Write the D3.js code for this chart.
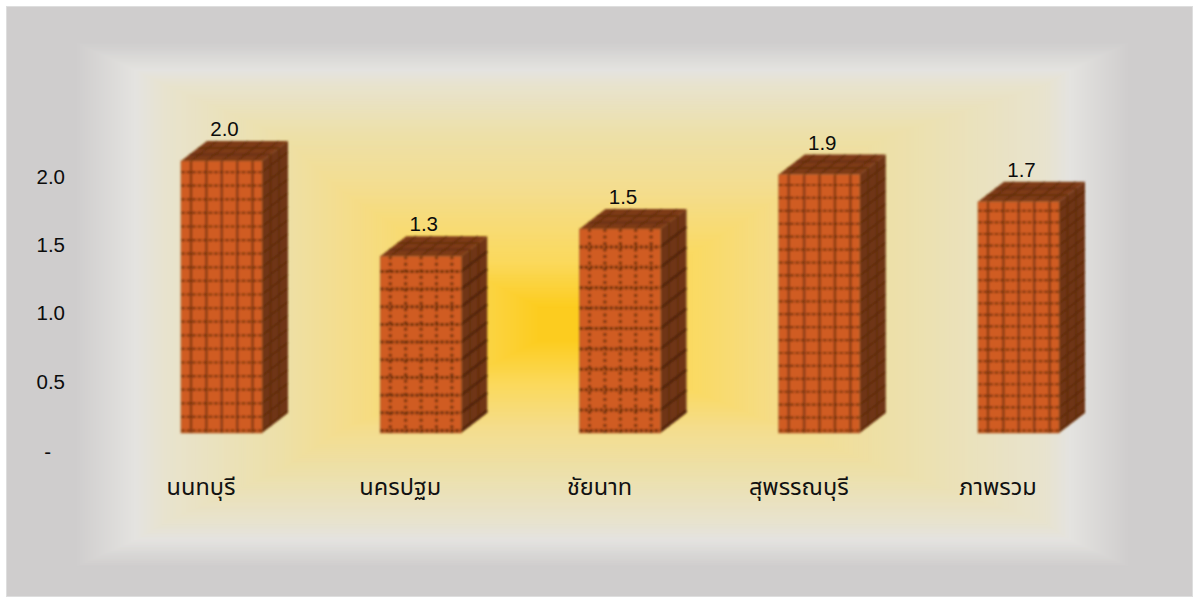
<!DOCTYPE html>
<html><head><meta charset="utf-8">
<script src="https://cdn.jsdelivr.net/npm/d3@7"></script>
<style>html,body{margin:0;padding:0;background:#fff}svg{display:block}</style>
</head><body><svg id="c" width="1199" height="604"></svg>
<script>
const categories = ["นนทบุรี","นครปฐม","ชัยนาท","สุพรรณบุรี","ภาพรวม"];
const values = [2.0,1.3,1.5,1.9,1.7];
const valueLabels = ["2.0","1.3","1.5","1.9","1.7"];
const brickRows = [20,10,10,20,20];
const tickValues = [0,0.5,1,1.5,2];

const svg = d3.select("#c");
// background: rectangular glow
const bgStops = [
 {r:[75,42,1130,567],c:"#cfcdcd"},
 {r:[135,70,1070,540],c:"#e4e3e0"},
 {r:[165,85,1045,522],c:"#e8e3ce"},
 {r:[280,135,890,470],c:"#ede0a8"},
 {r:[340,190,790,430],c:"#f4dd8e"},
 {r:[450,262,680,385],c:"#fbd95c"},
 {r:[540,308,585,340],c:"#fccc1e"}
];
svg.append("rect").attr("x",6).attr("y",6).attr("width",1187).attr("height",591).attr("fill","#dedede");
svg.append("rect").attr("x",7).attr("y",7).attr("width",1185).attr("height",589).attr("fill","#cfcdcd");
const bg = svg.append("g");
bgStops.slice(0,-1).forEach((s,i)=>{
  const e = bgStops[i+1], steps = 60, col = d3.interpolateRgb(s.c,e.c);
  const ir = d3.interpolateArray(s.r,e.r);
  d3.range(steps).forEach(k=>{
    const t=k/steps, r=ir(t);
    bg.append("rect").attr("x",r[0]).attr("y",r[1]).attr("width",r[2]-r[0]).attr("height",r[3]-r[1]).attr("fill",col(t));
  });
});

const defs = svg.append("defs");
defs.append("filter").attr("id","soft").attr("x","-5%").attr("y","-5%").attr("width","110%").attr("height","110%")
  .append("feGaussianBlur").attr("stdDeviation",0.85);

const baseY = 433, pxPerUnit = 136;
const y = d3.scaleLinear().domain([0,2]).range([baseY,baseY-2*pxPerUnit]);
const x = d3.scalePoint().domain(categories).range([221.5,1018.5]);
const barW = 81, dx = 26, dy = -20, cols = 5, colStep = 15.4;

const bars = svg.append("g").attr("filter","url(#soft)").selectAll("g").data(categories).join("g");
bars.each(function(cat,i){
  const g = d3.select(this), x0 = x(cat)-barW/2, x1 = x0+barW, top = y(values[i]), h = baseY-top;
  g.append("rect").attr("x",x0).attr("y",top).attr("width",barW).attr("height",h).attr("fill","#d05c22");
  g.append("path").attr("d",`M${x1},${top}L${x1+dx},${top+dy}V${baseY+dy}L${x1},${baseY}Z`).attr("fill","#6f3412");
  g.append("path").attr("d",`M${x0},${top}L${x0+dx},${top+dy}H${x1+dx}L${x1},${top}Z`).attr("fill","#7e3a16");
  const rows = brickRows[i], rowH = h/rows, coarse = rows===10;
  const ys = d3.range(rows).map(k=>top+rowH*(k+1)-2.5);
  const xs = d3.range(cols).map(k=>x0+10+colStep*k);
  const line = "#6a2f0c";
  ys.forEach(v=>{
    g.append("line").attr("x1",x0).attr("x2",x1).attr("y1",v).attr("y2",v).attr("stroke",line).attr("stroke-width",coarse?3:2.2).attr("stroke-dasharray",coarse?"3.5 1.5":"4 1.5").attr("opacity",coarse?1:0.85);
    g.append("line").attr("x1",x1).attr("x2",x1+dx).attr("y1",v).attr("y2",v+dy).attr("stroke","#4f2408").attr("stroke-width",coarse?2.4:1.3).attr("opacity",coarse?1:0.6);
  });
  xs.forEach(v=>{
    g.append("line").attr("x1",v).attr("x2",v).attr("y1",top).attr("y2",baseY).attr("stroke",line).attr("stroke-width",coarse?3:2.4).attr("stroke-dasharray",coarse?"3 3.5":null).attr("opacity",coarse?0.95:0.72);
    g.append("line").attr("x1",v).attr("x2",v+dx).attr("y1",top).attr("y2",top+dy).attr("stroke","#5a2a0b").attr("stroke-width",1.5).attr("opacity",0.75);
  });
  [0.33,0.66].forEach(f=>{
    g.append("line").attr("x1",x1+dx*f).attr("x2",x1+dx*f).attr("y1",top+dy*f).attr("y2",baseY+dy*f).attr("stroke","#532709").attr("stroke-width",1.3).attr("opacity",0.6);
    g.append("line").attr("x1",x0+dx*f).attr("x2",x1+dx*f).attr("y1",top+dy*f).attr("y2",top+dy*f).attr("stroke","#5a2a0b").attr("stroke-width",1.5).attr("opacity",0.75);
  });
  g.append("rect").attr("x",x0).attr("y",top).attr("width",barW).attr("height",h).attr("fill","none").attr("stroke","#a8602c").attr("stroke-width",0.7);
});

const latin = "'Liberation Sans',Arial,sans-serif";
const thai = "'Noto Sans','Noto Sans Thai','DejaVu Sans',sans-serif";
svg.append("g").selectAll("text").data(categories).join("text")
  .attr("x",(d,i)=>x(d)+3).attr("y",(d,i)=>y(values[i])+dy-5)
  .attr("text-anchor","middle").attr("font-family",latin).attr("font-size",20.5).attr("fill","#0c0c0c")
  .text((d,i)=>valueLabels[i]);

const tickY = d3.scaleLinear().domain([0,2]).range([449.5,176]);
const axis = d3.axisLeft(tickY).tickValues(tickValues).tickSize(0).tickPadding(0).tickFormat(d=>d===0?"-":d3.format(".1f")(d));
const ax = svg.append("g").attr("transform","translate(65,0)").call(axis);
ax.select(".domain").remove();
ax.selectAll("text").attr("font-family",latin).attr("font-size",20.5).attr("fill","#0c0c0c").attr("dy","0.35em");
ax.selectAll("text").filter(d=>d===0).attr("transform","translate(-14,1.5)");

svg.append("g").selectAll("text").data(categories).join("text")
  .attr("x",d=>x(d)-20.5).attr("y",495).attr("text-anchor","middle").attr("font-family",thai).attr("font-size",23.5).attr("fill","#111").text(d=>d);
</script></body></html>
